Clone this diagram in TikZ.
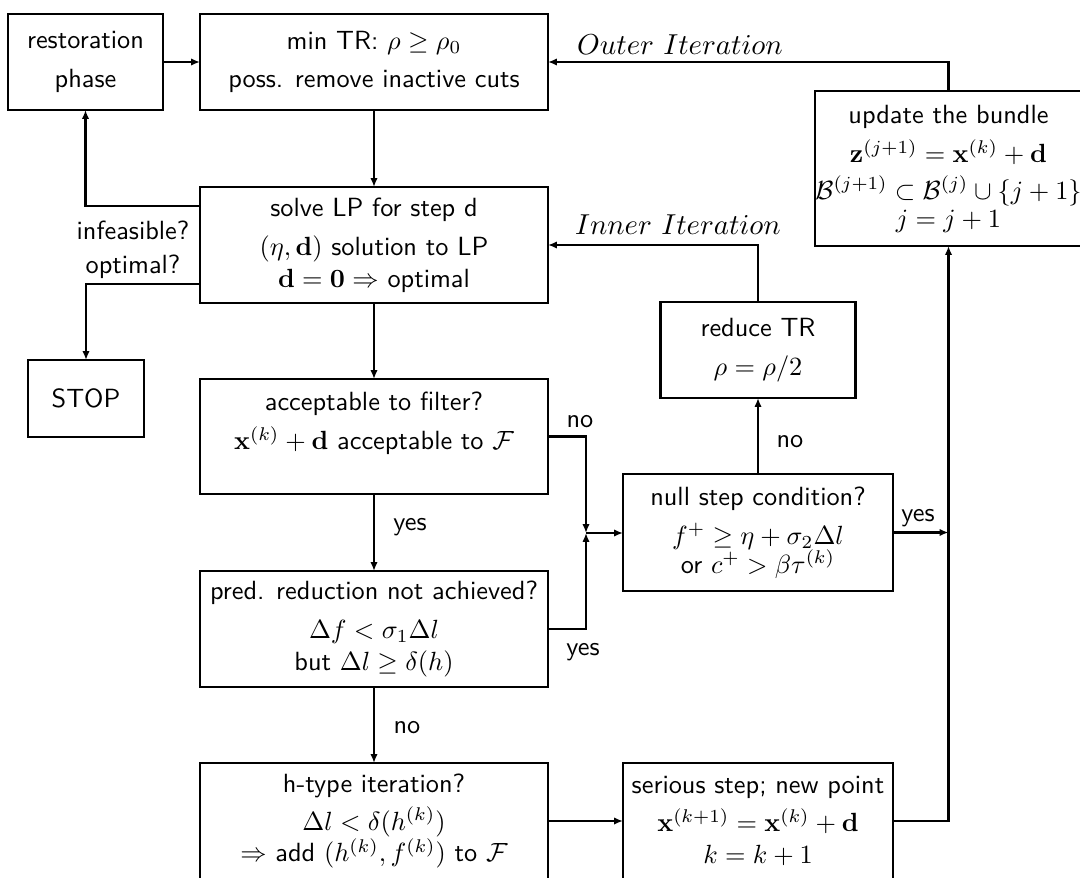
\documentclass[tikz,border=0pt]{standalone}
\usepackage{amsmath,amssymb}
\usetikzlibrary{arrows.meta,calc}
\def\pxu{0.38pt}
\begin{document}
\begin{tikzpicture}[x=0.38pt,y=-0.38pt,
  box/.style={draw,line width=1.1pt,inner sep=0pt,outer sep=0pt,align=center,font=\sffamily},
  arr/.style={line width=1.1pt,-{Latex[length=3.4pt,width=2.8pt]}},
  lbl/.style={inner sep=0pt,font=\sffamily},
  itl/.style={inner sep=0pt,font=\fontsize{11pt}{13pt}\selectfont}]
\useasboundingbox (0,0) rectangle (1080,877);
% boxes
\node[box,minimum width=155*\pxu,minimum height=96*\pxu] (rest) at (85.5,62) {restoration\\[3pt]phase};
\node[box,minimum width=348*\pxu,minimum height=96*\pxu] (mintr) at (374,62) {min TR: $\rho\geq\rho_0$\\[2.5pt]poss. remove inactive cuts};
\node[box,minimum width=348*\pxu,minimum height=116*\pxu] (solve) at (374,245) {solve LP for step d\\[3pt]$(\eta,\mathbf{d})$ solution to LP\\$\mathbf{d}=\mathbf{0}\Rightarrow$ optimal};
\node[box,minimum width=116*\pxu,minimum height=77*\pxu] (stop) at (86,398.5) {STOP};
\node[box,minimum width=348*\pxu,minimum height=115*\pxu] (acc) at (374,436.5) {acceptable to filter?\\[3pt]$\mathbf{x}^{(k)}+\mathbf{d}$ acceptable to $\mathcal{F}$\\\mbox{}};
\node[box,minimum width=348*\pxu,minimum height=116*\pxu] (pred) at (374,629) {pred. reduction not achieved?\\[3pt]$\Delta f<\sigma_1\Delta l$\\but $\Delta l\geq\delta(h)$};
\node[box,minimum width=348*\pxu,minimum height=116*\pxu] (htype) at (374,821) {h-type iteration?\\[2.5pt]$\Delta l<\delta(h^{(k)})$\\$\Rightarrow$ add $(h^{(k)},f^{(k)})$ to $\mathcal{F}$};
\node[box,minimum width=270*\pxu,minimum height=116*\pxu] (serious) at (758,821) {serious step; new point\\[2.5pt]$\mathbf{x}^{(k+1)}=\mathbf{x}^{(k)}+\mathbf{d}$\\$k=k+1$};
\node[box,minimum width=195*\pxu,minimum height=96*\pxu] (reduce) at (758,350) {reduce TR\\[3pt]$\rho=\rho/2$};
\node[box,minimum width=270*\pxu,minimum height=117*\pxu] (null) at (758,532.5) {null step condition?\\[3pt]$f^+\geq\eta+\sigma_2\Delta l$\\[-1pt]or $c^+>\beta\tau^{(k)}$};
\node[box,minimum width=267*\pxu,minimum height=155*\pxu] (update) at (948.5,168.5) {update the bundle\\[3pt]$\mathbf{z}^{(j+1)}=\mathbf{x}^{(k)}+\mathbf{d}$\\[2pt]$\mathcal{B}^{(j+1)}\subset\mathcal{B}^{(j)}\cup\{j+1\}$\\[-1.5pt]$j=j+1$};
% labels
\node[lbl] (linf) at (133,230) {infeasible?};
\node[lbl] (lopt) at (133,267) {optimal?};
\node[lbl] (lyes1) at (410,527) {yes};
\node[lbl] (lno1) at (407,728) {no};
\node[lbl] (lno2) at (580,422) {no};
\node[lbl] (lyes2) at (583,652) {yes};
\node[lbl] (lno3) at (790,442) {no};
\node[lbl] (lyes3) at (918,518) {yes};
\node[itl] (louter) at (680,45) {$Outer\ Iteration$};
\node[itl] (linner) at (678,225) {$Inner\ Iteration$};
\coordinate (join) at (586,533);
% connectors
\draw[arr] (rest) -- (mintr);
\draw[arr] (mintr) -- (solve);
\draw[arr] ($(solve.west)+(0,-39)$) -| (rest.south);
\draw[arr] ($(solve.west)+(0,39)$) -| (stop.north);
\draw[arr] (solve) -- (acc);
\draw[arr] (acc) -- (pred);
\draw[arr] (pred) -- (htype);
\draw[arr] (htype) -- (serious);
\draw[arr] (acc.east) -| (join);
\draw[arr] (pred.east) -| (join);
\draw[arr] (join) -- (join -| null.west);
\draw[arr] (null) -- (reduce);
\draw[arr] (reduce.north) |- (solve.east);
\draw[arr] (null.east) -- (null.east -| update.south);
\draw[arr] (serious.east) -| (update.south);
\draw[arr] (update.north) |- (mintr.east);
\end{tikzpicture}
\end{document}
